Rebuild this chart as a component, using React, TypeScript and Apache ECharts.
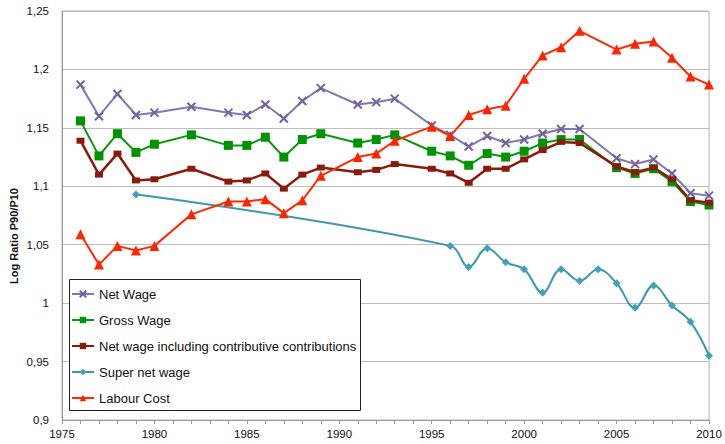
import React, { useEffect, useRef } from "react";
import * as echarts from "echarts";

const years = [1976, 1977, 1978, 1979, 1980, 1982, 1984, 1985, 1986, 1987, 1988, 1989, 1991, 1992, 1993, 1995, 1996, 1997, 1998, 1999, 2000, 2001, 2002, 2003, 2005, 2006, 2007, 2008, 2009, 2010];
const netWage = [1.187, 1.160, 1.179, 1.161, 1.163, 1.168, 1.163, 1.161, 1.170, 1.158, 1.173, 1.184, 1.170, 1.172, 1.175, 1.152, 1.144, 1.134, 1.143, 1.137, 1.140, 1.145, 1.149, 1.149, 1.124, 1.119, 1.123, 1.111, 1.094, 1.092];
const grossWage = [1.156, 1.126, 1.145, 1.129, 1.136, 1.144, 1.135, 1.135, 1.142, 1.125, 1.140, 1.145, 1.137, 1.140, 1.144, 1.130, 1.126, 1.118, 1.128, 1.125, 1.130, 1.137, 1.140, 1.140, 1.116, 1.111, 1.115, 1.104, 1.087, 1.084];
const netInclContrib = [1.139, 1.110, 1.128, 1.105, 1.106, 1.115, 1.104, 1.105, 1.111, 1.098, 1.110, 1.116, 1.112, 1.114, 1.119, 1.115, 1.111, 1.103, 1.115, 1.115, 1.123, 1.131, 1.138, 1.137, 1.117, 1.112, 1.116, 1.106, 1.088, 1.086];
const labourCost = [1.059, 1.033, 1.049, 1.045, 1.049, 1.076, 1.087, 1.087, 1.089, 1.077, 1.088, 1.109, 1.125, 1.128, 1.139, 1.151, 1.143, 1.161, 1.166, 1.169, 1.192, 1.212, 1.219, 1.233, 1.217, 1.222, 1.224, 1.210, 1.194, 1.187];
const superYears = [1979, 1996, 1997, 1998, 1999, 2000, 2001, 2002, 2003, 2004, 2005, 2006, 2007, 2008, 2009, 2010];
const superNetWage = [1.093, 1.049, 1.031, 1.047, 1.035, 1.029, 1.009, 1.029, 1.019, 1.029, 1.017, 0.996, 1.015, 0.998, 0.984, 0.955];

const seriesNames = ["Net Wage", "Gross Wage", "Net wage including contributive contributions", "Super net wage", "Labour Cost"];

const pair = (xs: number[], ys: number[]) => xs.map((x, i) => [x, ys[i]]);

export default function App() {
  const ref = useRef<HTMLDivElement>(null);
  useEffect(() => {
    if (!ref.current) return;
    const chart = echarts.init(ref.current, undefined, { renderer: "svg" });
    const font = "'Liberation Sans', Arial, sans-serif";
    chart.setOption({
      animation: false,
      textStyle: { fontFamily: font },
      grid: { left: 62, right: 16, top: 11, bottom: 24, show: true, borderColor: "#b0b0b0", borderWidth: 1 },
      xAxis: {
        type: "value",
        min: 1975,
        max: 2010,
        interval: 5,
        axisLine: { show: true, lineStyle: { color: "#999999", width: 1 } },
        axisTick: { show: true, length: 4, lineStyle: { color: "#999999" } },
        minorTick: { show: true, splitNumber: 5, length: 4, lineStyle: { color: "#999999" } },
        splitLine: { show: false },
        axisLabel: { color: "#111", fontSize: 11.5, margin: 8, fontFamily: font, formatter: (v: number) => String(v) },
      },
      yAxis: {
        type: "value",
        min: 0.9,
        max: 1.25,
        interval: 0.05,
        axisLine: { show: true, lineStyle: { color: "#999999", width: 1 } },
        axisTick: { show: false },
        splitLine: { show: true, lineStyle: { color: "#bdbdbd", width: 1 } },
        axisLabel: {
          color: "#111",
          fontSize: 11.5,
          margin: 13,
          fontFamily: font,
          formatter: (v: number) => String(parseFloat(v.toFixed(2))).replace(".", ","),
        },
      },
      legend: {
        data: seriesNames,
        orient: "vertical",
        left: 71,
        top: 287,
        itemWidth: 22,
        itemHeight: 8,
        itemGap: 12,
        textStyle: { fontSize: 13, color: "#111", fontFamily: font, lineHeight: 14 },
        itemTextGap: 2,
        padding: 0,
        z: 10,
      },
      graphic: [
        {
          type: "rect",
          z: 5,
          shape: { x: 69.5, y: 279.5, width: 291, height: 131 },
          style: { fill: "#ffffff", stroke: "#222222", lineWidth: 1 },
        },
        {
          type: "text",
          x: 14,
          y: 236,
          rotation: Math.PI / 2,
          style: {
            text: "Log Ratio P90/P10",
            font: `bold 11px ${font}`,
            fill: "#111",
            align: "center",
            verticalAlign: "middle",
          },
        },
      ],
      series: [
        {
          name: seriesNames[0],
          type: "line",
          data: pair(years, netWage),
          symbol: "path://M0,0 L10,10 M10,0 L0,10",
          symbolSize: 8,
          lineStyle: { color: "#8078b2", width: 2 },
          itemStyle: { color: "#74609c", borderColor: "#74609c", borderWidth: 2 },
        },
        {
          name: seriesNames[1],
          type: "line",
          data: pair(years, grossWage),
          symbol: "rect",
          symbolSize: 9,
          lineStyle: { color: "#0a960a", width: 2 },
          itemStyle: { color: "#009400" },
        },
        {
          name: seriesNames[2],
          type: "line",
          data: pair(years, netInclContrib),
          symbol: "rect",
          symbolSize: [8, 6],
          lineStyle: { color: "#8b1a0c", width: 2.5 },
          itemStyle: { color: "#8b1a0c" },
        },
        {
          name: seriesNames[3],
          type: "line",
          data: pair(superYears, superNetWage),
          smooth: 0.4,
          symbol: "diamond",
          symbolSize: 8,
          lineStyle: { color: "#3a99ae", width: 2 },
          itemStyle: { color: "#42a1b8" },
        },
        {
          name: seriesNames[4],
          type: "line",
          data: pair(years, labourCost),
          symbol: "triangle",
          symbolSize: 10,
          lineStyle: { color: "#ff2a00", width: 2 },
          itemStyle: { color: "#ff2400" },
        },
      ],
    });
    return () => chart.dispose();
  }, []);
  return <div ref={ref} style={{ width: 725, height: 444, position: "absolute", left: 0, top: 0 }} />;
}
